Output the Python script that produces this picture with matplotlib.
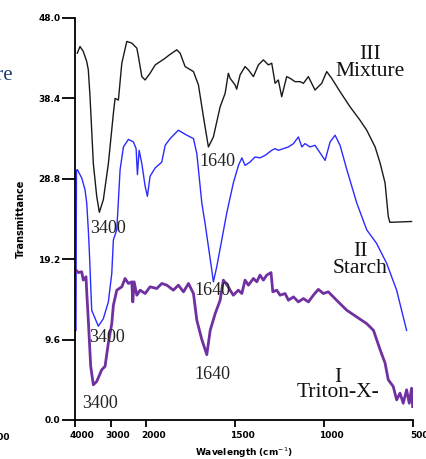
import matplotlib
matplotlib.use('Agg')
import numpy as np
import matplotlib.pyplot as plt
import matplotlib.transforms as mtransforms

# wavenumber (cm-1) / transmittance
mix_w = [3935, 3859, 3766, 3718, 3670, 3625, 3577, 3484, 3389, 3315, 3203, 3062, 2921, 2873, 2780,
         2684, 2544, 2403, 2262, 2217, 2121, 2028, 1978, 1949, 1921, 1893, 1869, 1828, 1809, 1781,
         1734, 1706, 1678, 1650, 1622, 1584, 1556, 1538, 1528, 1500, 1491, 1472, 1444, 1425, 1397,
         1369, 1341, 1313, 1294, 1275, 1257, 1238, 1210, 1191, 1163, 1135, 1116, 1088, 1051, 1013,
         985, 957, 910, 854, 798, 760, 713, 685, 657, 639, 630, 508]
mix_t = [43.8, 44.6, 44.0, 43.4, 42.8, 41.8, 38.6, 30.6, 26.7, 24.8, 26.3, 30.6, 36.6, 38.4, 38.2,
         42.6, 45.2, 45.0, 44.4, 43.4, 41.0, 40.6, 41.4, 42.4, 42.8, 43.2, 43.6, 44.2, 43.8, 42.2,
         41.6, 40.0, 36.2, 32.6, 33.8, 37.4, 39.0, 41.4, 40.8, 40.0, 39.5, 41.2, 42.2, 41.8, 41.0,
         42.4, 43.0, 42.4, 42.6, 40.2, 40.6, 38.6, 41.0, 40.8, 40.4, 40.4, 40.2, 41.0, 39.4, 40.2,
         41.6, 40.8, 39.2, 37.4, 35.8, 34.6, 32.6, 30.7, 28.3, 24.3, 23.6, 23.7]

sta_w = [3972, 3958, 3935, 3811, 3718, 3670, 3625, 3592, 3530, 3344, 3203, 3062, 2966, 2921, 2825,
         2732, 2639, 2499, 2358, 2282, 2245, 2197, 2121, 2028, 1993, 1978, 1949, 1912, 1893, 1865,
         1819, 1771, 1734, 1715, 1687, 1669, 1650, 1631, 1622, 1603, 1575, 1547, 1510, 1481, 1462,
         1444, 1416, 1388, 1360, 1331, 1294, 1275, 1257, 1229, 1201, 1172, 1144, 1125, 1107, 1079,
         1051, 1032, 994, 966, 938, 910, 872, 816, 760, 705, 648, 592, 536]
sta_t = [10.7, 29.8, 29.9, 28.9, 27.5, 25.9, 22.7, 19.7, 13.1, 11.2, 12.1, 14.1, 17.5, 21.5, 22.7,
         29.9, 32.6, 33.5, 33.2, 32.4, 29.3, 32.2, 30.6, 27.9, 26.7, 29.1, 30.1, 30.8, 32.8, 33.6,
         34.6, 34.0, 33.6, 31.8, 25.9, 23.5, 20.7, 17.9, 16.5, 18.3, 21.5, 24.7, 28.3, 30.4, 31.3,
         30.4, 30.8, 31.4, 31.3, 31.6, 32.2, 32.4, 32.2, 32.4, 32.6, 33.0, 33.8, 32.6, 33.0, 32.6,
         32.8, 32.2, 31.0, 33.2, 34.0, 32.8, 29.9, 25.9, 22.7, 21.1, 18.7, 15.5, 10.7]

tri_w = [3972, 3907, 3811, 3766, 3690, 3670, 3625, 3558, 3484, 3389, 3248, 3155, 3062, 2966, 2921,
         2825, 2684, 2592, 2499, 2403, 2375, 2338, 2262, 2169, 2028, 1978, 1940, 1912, 1884, 1847,
         1819, 1790, 1762, 1734, 1715, 1687, 1659, 1640, 1612, 1584, 1566, 1538, 1528, 1510, 1482,
         1462, 1444, 1425, 1397, 1378, 1360, 1341, 1322, 1298, 1288, 1266, 1247, 1219, 1200, 1172,
         1144, 1116, 1088, 1060, 1032, 1004, 976, 948, 920, 872, 816, 760, 722, 685, 657,
         639, 611, 592, 573, 555, 536, 521, 508, 502]
tri_t = [17.9, 17.6, 17.7, 16.7, 17.1, 15.3, 11.9, 6.4, 4.2, 4.6, 6.0, 6.4, 9.2, 11.5, 13.7,
         15.5, 15.9, 16.9, 16.3, 16.5, 14.1, 16.5, 14.9, 15.5, 15.1, 15.9, 15.7, 16.3, 16.1, 15.5,
         16.1, 15.3, 16.3, 15.1, 11.9, 9.6, 7.8, 10.7, 12.7, 14.3, 16.7, 15.9, 15.5, 14.9, 15.5,
         15.1, 16.7, 16.1, 16.9, 16.5, 17.3, 16.7, 17.3, 17.6, 15.3, 15.5, 14.9, 15.1, 14.3, 14.7,
         14.1, 14.5, 14.1, 14.9, 15.6, 15.1, 15.3, 14.7, 14.1, 13.1, 12.3, 11.5, 10.7, 8.4, 6.8,
         4.8, 4.0, 2.4, 3.2, 2.0, 3.6, 2.0, 3.8, 1.6]

xticks = [4000, 3000, 2000, 1500, 1000, 500]
yticks = [0.0, 9.6, 19.2, 28.8, 38.4, 48.0]

# peak labels: (wavenumber, transmittance, text)
peaks = [(3070, 22.9, '3400'), (1601, 30.9, '1640'),
         (3099, 9.8, '3400'), (1629, 15.5, '1640'),
         (3296, 2.0, '3400'), (1629, 5.4, '1640')]

K = 0.2  # compression of the 4000-2000 range


def fwd(w):
    w = np.asarray(w, dtype=float)
    return np.where(w > 2000, 2000 + (w - 2000) * K, w)


def inv(u):
    u = np.asarray(u, dtype=float)
    return np.where(u > 2000, 2000 + (u - 2000) / K, u)


fig = plt.figure(figsize=(4.27, 4.59), dpi=100)
ax = fig.add_axes([0.1756, 0.085, 0.7916, 0.8758])
ax.set_xscale('function', functions=(fwd, inv))

ax.plot(mix_w, mix_t, color='#1a1a1a', lw=1.0)
ax.plot(sta_w, sta_t, color='#2b2bff', lw=1.0)
ax.plot(tri_w, tri_t, color='#7030a0', lw=2.0)

ax.set_xlim(4000, 500)
ax.set_ylim(0, 48)
ax.set_xticks(xticks)
ax.set_xticklabels([str(t) for t in xticks])
ax.set_yticks(yticks)
ax.set_yticklabels(['%.1f' % t for t in yticks])
ax.minorticks_off()

for s in ['top', 'right']:
    ax.spines[s].set_visible(False)
for s in ['left', 'bottom']:
    ax.spines[s].set_linewidth(1.3)
ax.tick_params(axis='y', direction='out', length=9.5, width=1.3, pad=1, labelsize=6.5)
ax.tick_params(axis='x', direction='out', length=5, width=1.3, pad=3, labelsize=6.5)
shift = mtransforms.ScaledTranslation(7 / 100, 0, fig.dpi_scale_trans)
for lab in ax.get_xticklabels():
    lab.set_fontweight('bold')
    lab.set_transform(lab.get_transform() + shift)
for lab in ax.get_yticklabels():
    lab.set_fontweight('bold')

ax.set_ylabel('Transmittance', fontsize=7, fontweight='bold', labelpad=9)
ax.set_xlabel('Wavelength (cm$^{-1}$)', fontsize=6.5, fontweight='bold', labelpad=4)

serif = 'Liberation Serif'
for w, t, txt in peaks:
    ax.text(w, t, txt, fontsize=13, family=serif, color='#222222', ha='center', va='center')

ax.text(0.873, 0.888, 'III\nMixture', transform=ax.transAxes, fontsize=15.5, family=serif,
        ha='center', va='center', linespacing=0.85, color='#111111')
ax.text(0.843, 0.398, 'II\nStarch', transform=ax.transAxes, fontsize=15.5, family=serif,
        ha='center', va='center', linespacing=0.85, color='#111111')
ax.text(0.778, 0.087, 'I\nTriton-X-', transform=ax.transAxes, fontsize=15.5, family=serif,
        ha='center', va='center', linespacing=0.68, color='#111111')

# remnants of the neighbouring panel cut by the crop
fig.text(13 / 427, 1 - 76 / 459, 'Mixture', fontsize=15, family=serif, color='#1f3b6e',
         ha='right', va='center')
fig.text(10 / 427, 1 - 437 / 459, '500', fontsize=6.5, fontweight='bold', ha='right', va='center')

fig.savefig('out.png', dpi=100)
